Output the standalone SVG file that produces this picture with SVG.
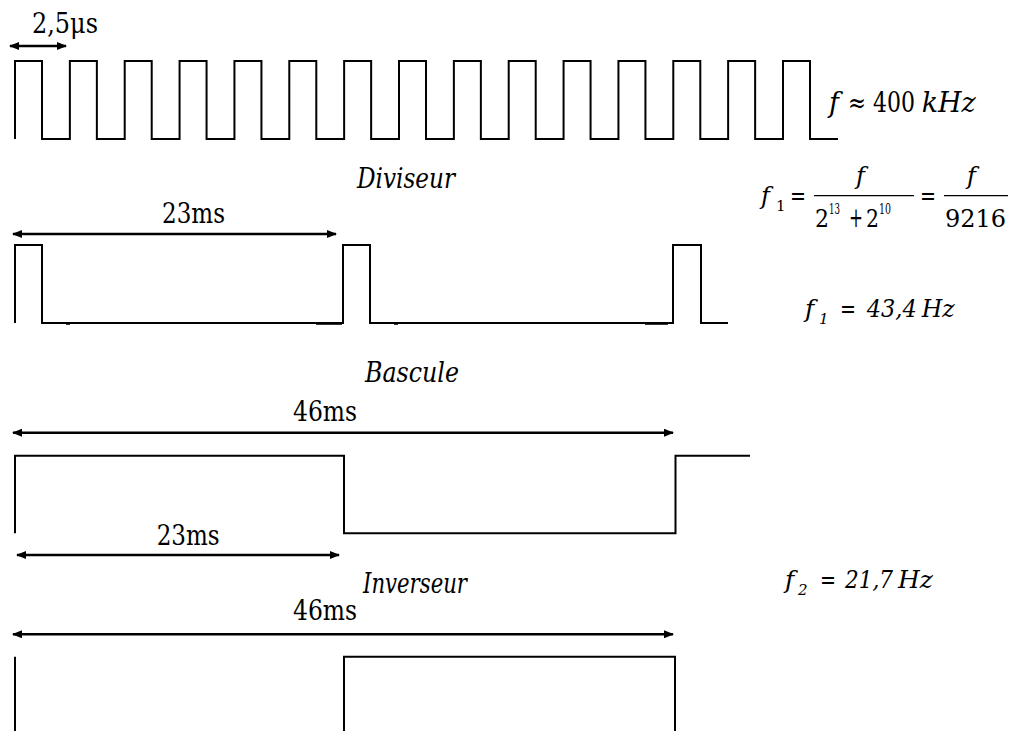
<svg xmlns="http://www.w3.org/2000/svg" width="1011" height="731" viewBox="0 0 1011 731" font-family="DejaVu Serif, serif">
<defs>
<style>
.bg{fill:#ffffff}
.wave{fill:none;stroke:#000;stroke-width:2;stroke-linejoin:miter}
.art{fill:none;stroke:#333;stroke-width:1.2}
.dim{fill:none;stroke:#000;stroke-width:2.5;marker-start:url(#ah);marker-end:url(#ah)}
.bar{stroke:#000;stroke-width:1.3}
text{font-size:27px;fill:#000}
.it{font-style:italic}
.fm{font-size:24px}
.lb{font-size:25px}
.sub{font-size:15px}
.sup{font-size:14px}
</style>
<marker id="ah" viewBox="0 0 10 8" refX="9" refY="4" markerWidth="10" markerHeight="8" markerUnits="userSpaceOnUse" orient="auto-start-reverse">
<path d="M0,0 L10,4 L0,8 Z" fill="#000"/>
</marker>
</defs>
<rect class="bg" x="0" y="0" width="1011" height="731"/>

<g id="clock" font-family="DejaVu Serif, serif">
<path class="wave" d="M15,139 V61 H42 V139 H69.86 V61 H96.86 V139 H124.71 V61 H151.71 V139 H179.57 V61 H206.57 V139 H234.43 V61 H261.43 V139 H289.29 V61 H316.29 V139 H344.14 V61 H371.14 V139 H399 V61 H426 V139 H453.86 V61 H480.86 V139 H508.71 V61 H535.71 V139 H563.57 V61 H590.57 V139 H618.43 V61 H645.43 V139 H673.29 V61 H700.29 V139 H728.14 V61 H755.14 V139 H783 V61 H810 V139 H838"/>
<text x="32" y="33" textLength="66" lengthAdjust="spacingAndGlyphs" font-family="DejaVu Serif, serif">2,5μs</text>
<g id="f-label" font-family="DejaVu Serif, serif">
<text class="it" x="829" y="111.7" font-family="DejaVu Serif, serif">f</text>
<text x="848" y="111.7" textLength="18" lengthAdjust="spacingAndGlyphs" font-family="DejaVu Serif, serif">≈</text>
<text x="873" y="111.7" textLength="42" lengthAdjust="spacingAndGlyphs" font-family="DejaVu Serif, serif">400</text>
<text class="it" x="921.7" y="111.7" textLength="54" lengthAdjust="spacingAndGlyphs" font-family="DejaVu Serif, serif">kHz</text>
</g>
</g>

<g id="diviseur" font-family="DejaVu Serif, serif">
<text class="it" x="357" y="188" textLength="98" lengthAdjust="spacingAndGlyphs" font-family="DejaVu Serif, serif">Diviseur</text>
<path class="wave" d="M15,323 V245 H42 V323 H343 V245 H370 V323 H673 V245 H701 V323 H728"/>
<path class="art" d="M66,324.5 H70 M316,324.5 H342 M394,324.5 H398 M645,324.5 H668"/>
<text x="162" y="223.3" textLength="63" lengthAdjust="spacingAndGlyphs" font-family="DejaVu Serif, serif">23ms</text>
<g id="formula" font-family="DejaVu Serif, serif">
<text class="it fm" x="761" y="204" font-family="DejaVu Serif, serif">f</text>
<text class="sub" x="776" y="211" font-family="DejaVu Serif, serif">1</text>
<text class="fm" x="790" y="204" textLength="16" lengthAdjust="spacingAndGlyphs" font-family="DejaVu Serif, serif">=</text>
<text class="it fm" x="856" y="184" font-family="DejaVu Serif, serif">f</text>
<line class="bar" x1="814" y1="195.7" x2="914" y2="195.7"/>
<text class="fm" x="815" y="226.7" textLength="14" lengthAdjust="spacingAndGlyphs" font-family="DejaVu Serif, serif">2</text>
<text class="sup" x="829" y="214" textLength="11" lengthAdjust="spacingAndGlyphs" font-family="DejaVu Serif, serif">13</text>
<text x="849" y="226.7" font-size="19" textLength="14" lengthAdjust="spacingAndGlyphs" font-family="DejaVu Serif, serif">+</text>
<text class="fm" x="866" y="226.7" textLength="13" lengthAdjust="spacingAndGlyphs" font-family="DejaVu Serif, serif">2</text>
<text class="sup" x="879" y="214" textLength="12" lengthAdjust="spacingAndGlyphs" font-family="DejaVu Serif, serif">10</text>
<text class="fm" x="920" y="204" textLength="16" lengthAdjust="spacingAndGlyphs" font-family="DejaVu Serif, serif">=</text>
<text class="it fm" x="967" y="184" font-family="DejaVu Serif, serif">f</text>
<line class="bar" x1="944" y1="195.7" x2="1008" y2="195.7"/>
<text class="fm" x="945" y="226.7" textLength="61" lengthAdjust="spacingAndGlyphs" font-family="DejaVu Serif, serif">9216</text>
</g>
<g id="f1-label" font-family="DejaVu Serif, serif">
<text class="it lb" x="805" y="317" font-family="DejaVu Serif, serif">f</text>
<text class="it sub" x="819" y="324" font-family="DejaVu Serif, serif">1</text>
<text class="lb" x="840" y="317" textLength="16" lengthAdjust="spacingAndGlyphs" font-family="DejaVu Serif, serif">=</text>
<text class="it lb" x="866.7" y="317" textLength="50" lengthAdjust="spacingAndGlyphs" font-family="DejaVu Serif, serif">43,4</text>
<text class="it lb" x="921.7" y="317" textLength="33" lengthAdjust="spacingAndGlyphs" font-family="DejaVu Serif, serif">Hz</text>
</g>
</g>

<g id="bascule" font-family="DejaVu Serif, serif">
<text class="it" x="365" y="381.7" textLength="94" lengthAdjust="spacingAndGlyphs" font-family="DejaVu Serif, serif">Bascule</text>
<text x="293" y="421" textLength="64" lengthAdjust="spacingAndGlyphs" font-family="DejaVu Serif, serif">46ms</text>
<path class="wave" d="M15,533.3 V455.7 H344 V533.3 H675.5 V455.7 H750"/>
<text x="156.7" y="545" textLength="63" lengthAdjust="spacingAndGlyphs" font-family="DejaVu Serif, serif">23ms</text>
</g>

<g id="inverseur" font-family="DejaVu Serif, serif">
<text class="it" x="363" y="593" textLength="104" lengthAdjust="spacingAndGlyphs" font-family="DejaVu Serif, serif">Inverseur</text>
<text x="293" y="620" textLength="64" lengthAdjust="spacingAndGlyphs" font-family="DejaVu Serif, serif">46ms</text>
<path class="wave" d="M15,656.7 V731 M344,731 V656.7 H675 V731"/>
<g id="f2-label" font-family="DejaVu Serif, serif">
<text class="it lb" x="785" y="588" font-family="DejaVu Serif, serif">f</text>
<text class="it sub" x="798" y="595" font-family="DejaVu Serif, serif">2</text>
<text class="lb" x="820" y="588" textLength="16" lengthAdjust="spacingAndGlyphs" font-family="DejaVu Serif, serif">=</text>
<text class="it lb" x="845" y="588" textLength="48" lengthAdjust="spacingAndGlyphs" font-family="DejaVu Serif, serif">21,7</text>
<text class="it lb" x="898" y="588" textLength="35" lengthAdjust="spacingAndGlyphs" font-family="DejaVu Serif, serif">Hz</text>
</g>
</g>

<g id="connectors">
<line class="dim" x1="10" y1="46" x2="66" y2="46"/>
<line class="dim" x1="13" y1="234" x2="336" y2="234"/>
<line class="dim" x1="13" y1="432.7" x2="673" y2="432.7"/>
<line class="dim" x1="17" y1="555" x2="339" y2="555"/>
<line class="dim" x1="13" y1="634.3" x2="673" y2="634.3"/>
</g>
</svg>
